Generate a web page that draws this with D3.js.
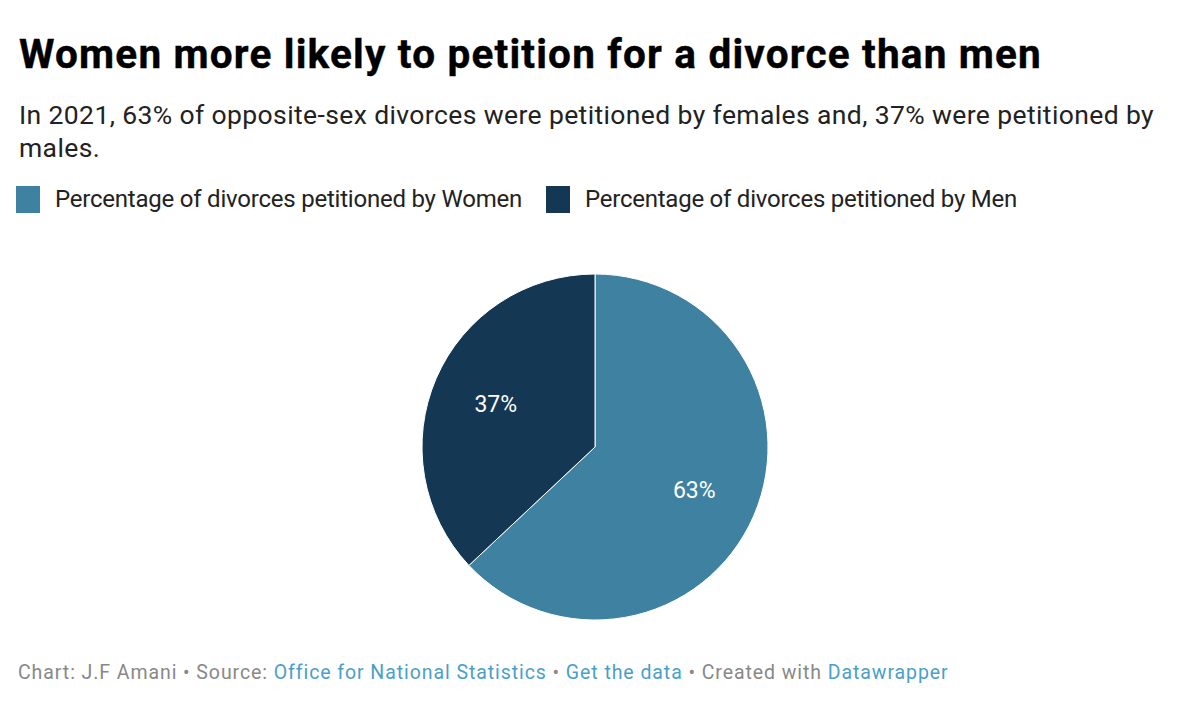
<!DOCTYPE html>
<html>
<head>
<meta charset="utf-8">
<script src="https://cdn.jsdelivr.net/npm/d3@7"></script>
<style>
  body { margin: 0; background: #fff; font-family: Roboto, "Noto Sans", sans-serif; }
</style>
</head>
<body>
<svg id="chart" width="1200" height="708"></svg>
<script>
// data
var categories = ["Percentage of divorces petitioned by Women", "Percentage of divorces petitioned by Men"];
var values = [63, 37];
var colors = ["#3f81a0", "#143753"];

var svg = d3.select("#chart");

// stretch a text to a given width with letter spacing
function fit(sel, width) {
    var n = sel.text().length;
    var len = sel.node().getComputedTextLength();
    sel.attr("letter-spacing", ((width - len) / n) + "px");
}

var title = svg.append("text")
    .attr("x", 19).attr("y", 68)
    .attr("font-size", 40.5).attr("font-weight", 700).attr("fill", "#000")
    .attr("stroke", "#000").attr("stroke-width", 0.4)
    .text("Women more likely to petition for a divorce than men");
fit(title, 1023);

var sub1 = svg.append("text").attr("x", 19).attr("y", 124)
    .attr("font-size", 26.5).attr("fill", "#222")
    .text("In 2021, 63% of opposite-sex divorces were petitioned by females and, 37% were petitioned by");
fit(sub1, 1135);
var sub2 = svg.append("text").attr("x", 19).attr("y", 157)
    .attr("font-size", 26.5).attr("fill", "#222").text("males.");
sub2.attr("letter-spacing", sub1.attr("letter-spacing"));

// legend
var legendX = [16, 546];
var legendW = [467, 432];
categories.forEach(function(c, i) {
    var g = svg.append("g").attr("transform", "translate(" + legendX[i] + ",186)");
    g.append("rect").attr("width", 24).attr("height", 27).attr("fill", colors[i]);
    var t = g.append("text").attr("x", 39).attr("y", 21)
        .attr("font-size", 24).attr("fill", "#222").text(c);
    fit(t, legendW[i]);
});

// pie
var cx = 595, cy = 447, r = 173;
var pie = d3.pie().sort(null).value(function(d) { return d; });
var arc = d3.arc().innerRadius(0).outerRadius(r);
var labelArc = d3.arc().innerRadius(r * 0.625).outerRadius(r * 0.625);
var arcs = pie(values);

var pg = svg.append("g").attr("transform", "translate(" + cx + "," + cy + ")");
pg.selectAll("path").data(arcs).enter().append("path")
    .attr("d", arc)
    .attr("fill", function(d, i) { return colors[i]; })
    .attr("stroke", "#fff").attr("stroke-width", 1);

pg.selectAll("text").data(arcs).enter().append("text")
    .attr("transform", function(d) { return "translate(" + labelArc.centroid(d) + ")"; })
    .attr("text-anchor", "middle").attr("dy", "0.36em")
    .attr("font-size", 23).attr("fill", "#fff")
    .text(function(d) { return d.data + "%"; });

// footer
var f = svg.append("text").attr("x", 18).attr("y", 679).attr("font-size", 19.5).attr("fill", "#888");
f.append("tspan").text("Chart: J.F Amani • Source: ");
f.append("tspan").attr("fill", "#4a9fc8").text("Office for National Statistics");
f.append("tspan").text(" • ");
f.append("tspan").attr("fill", "#4a9fc8").text("Get the data");
f.append("tspan").text(" • Created with ");
f.append("tspan").attr("fill", "#4a9fc8").text("Datawrapper");
fit(f, 929);
</script>
</body>
</html>
